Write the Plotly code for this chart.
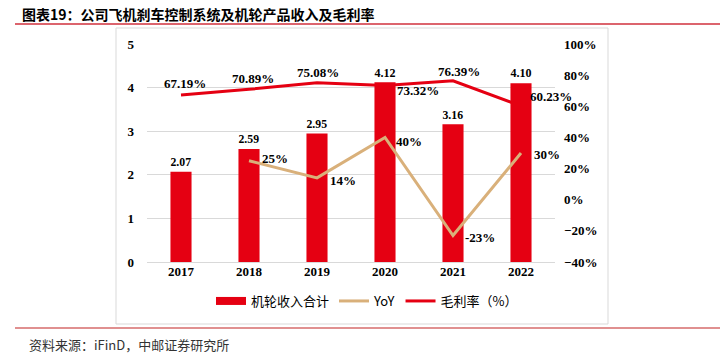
import plotly.graph_objects as go

years = ["2017", "2018", "2019", "2020", "2021", "2022"]
revenue = [2.07, 2.59, 2.95, 4.12, 3.16, 4.10]
yoy_years = ["2018", "2019", "2020", "2021", "2022"]
yoy = [25, 14, 40, -23, 30]
margin = [67.19, 70.89, 75.08, 73.32, 76.39, 60.23]

RED = "#E50012"
TAN = "#D9B07A"
NUM_FONT = dict(family="Liberation Serif", size=13, color="#000000", weight="bold")
CJK = "Noto Sans CJK SC"

W, H = 727, 356
L, R, T, B = 147, 555, 44, 262


def px(x):
    return (x - L) / (R - L)


def py(y):
    return (B - y) / (B - T)


fig = go.Figure()
fig.add_trace(go.Bar(
    x=years, y=revenue, name="机轮收入合计", showlegend=False,
    marker=dict(color=RED, line=dict(width=0)),
    width=0.31,
    text=[f"{v:.2f}" for v in revenue], textposition="outside",
    textfont=NUM_FONT, cliponaxis=False,
))
# legend stand-in for the bar series (wide rectangle swatch)
fig.add_trace(go.Scatter(
    x=years[:1], y=[-10], name="机轮收入合计", mode="lines",
    line=dict(color=RED, width=8), hoverinfo="skip",
))
fig.add_trace(go.Scatter(
    x=yoy_years, y=yoy, name="YoY", yaxis="y2", mode="lines",
    line=dict(color=TAN, width=3),
))
fig.add_trace(go.Scatter(
    x=years, y=margin, name="毛利率（%）", yaxis="y2", mode="lines",
    line=dict(color=RED, width=3),
))

shapes = [
    dict(type="line", xref="paper", yref="paper", x0=px(15), x1=px(720), y0=py(24), y1=py(24),
         line=dict(color="#D0313C", width=1.5)),
    dict(type="rect", xref="paper", yref="paper", x0=px(116), x1=px(608), y0=py(28), y1=py(324),
         line=dict(color="#D9D9D9", width=1)),
    dict(type="line", xref="paper", yref="paper", x0=px(15), x1=px(720), y0=py(328), y1=py(328),
         line=dict(color="#E09090", width=2)),
]

annotations = [
    dict(text="图表19：公司飞机刹车控制系统及机轮产品收入及毛利率", xref="paper", yref="paper",
         x=px(20), y=py(14), xanchor="left", yanchor="middle", showarrow=False,
         font=dict(family=CJK, size=14, color="#000000", weight="bold")),
    dict(text="资料来源：iFinD，中邮证券研究所", xref="paper", yref="paper",
         x=px(27), y=py(344), xanchor="left", yanchor="middle", showarrow=False,
         font=dict(family=CJK, size=13, color="#333333")),
]

# label placement (style only)
m_anchor = ["center", "center", "center", "left", "center", "left"]
m_xs = [4, 4, 1, 10, 6, 7]
m_ys = [12, 11, 10, -5, 9, 9]
for x, v, a, xs, ys in zip(years, margin, m_anchor, m_xs, m_ys):
    annotations.append(dict(x=years.index(x), y=v, xref="x", yref="y2", text=f"{v:.2f}%",
                            showarrow=False, xanchor=a, yanchor="middle", xshift=xs, yshift=ys,
                            font=NUM_FONT))

y_xs = [11, 11, 9, 10, 11]
y_ys = [2, -3, -4, -2, -1]
for x, v, xs, ys in zip(yoy_years, yoy, y_xs, y_ys):
    annotations.append(dict(x=years.index(x), y=v, xref="x", yref="y2", text=f"{v}%",
                            showarrow=False, xanchor="left", yanchor="middle", xshift=xs,
                            yshift=ys, font=NUM_FONT))

fig.update_layout(
    width=W, height=H,
    margin=dict(l=L, r=W - R, t=T, b=H - B),
    paper_bgcolor="white", plot_bgcolor="white",
    showlegend=True,
    legend=dict(orientation="h", x=px(367), y=py(301), xanchor="center", yanchor="middle",
                font=dict(family=CJK, size=13, color="#000000"), itemwidth=30,
                traceorder="normal", tracegroupgap=0, bgcolor="rgba(0,0,0,0)"),
    bargap=0.69,
    shapes=shapes, annotations=annotations,
    xaxis=dict(type="category", categoryorder="array", categoryarray=years,
               range=[-0.5, len(years) - 0.5],
               showgrid=False, showline=False, ticks="", tickfont=NUM_FONT),
    yaxis=dict(range=[0, 5], dtick=1, showgrid=True, gridcolor="#D9D9D9", gridwidth=1,
               zeroline=True, zerolinecolor="#D9D9D9", zerolinewidth=1,
               showline=False, tickfont=NUM_FONT, ticklabelstandoff=12),
    yaxis2=dict(range=[-40, 100], dtick=20, overlaying="y", side="right", showgrid=False,
                zeroline=False, showline=False, ticksuffix="%", tickfont=NUM_FONT,
                ticklabelstandoff=8),
)

fig.write_html("out.html", config={"displayModeBar": False},
               post_script="document.body.style.margin='0';")
